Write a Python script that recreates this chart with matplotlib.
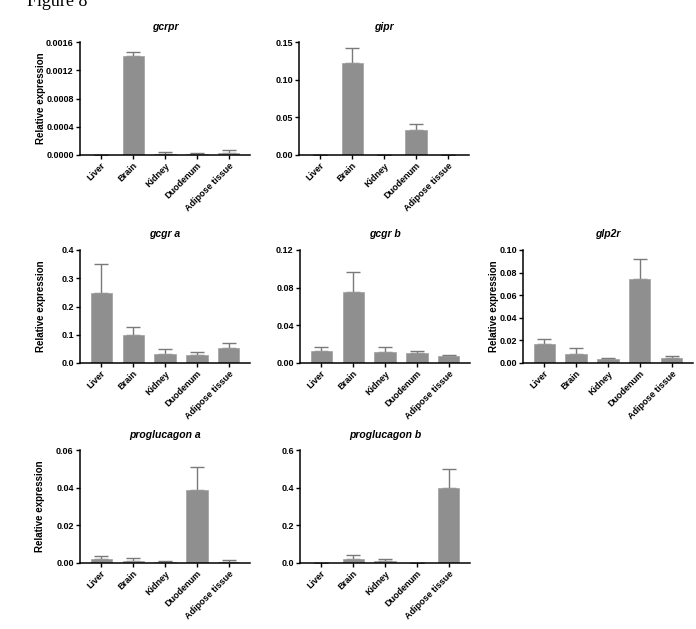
import matplotlib
matplotlib.use("Agg")
from matplotlib import pyplot as plt
import numpy as np

plt.rcParams['font.family'] = ['Liberation Sans', 'DejaVu Sans']

tissues = ["Liver", "Brain", "Kidney", "Duodenum", "Adipose tissue"]

# mean and upper error (SEM) per tissue
gcrpr = [0.0, 0.001406, 0.000014, 0.00001, 0.000033]
gcrpr_err = [0.0, 0.000048, 0.000024, 0.000014, 0.000033]
gipr = [0.0, 0.1226, 0.0, 0.0332, 0.0]
gipr_err = [0.0, 0.019, 0.0, 0.0084, 0.0]
gcgr_a = [0.2494, 0.0988, 0.033, 0.027, 0.052]
gcgr_a_err = [0.1, 0.030, 0.0176, 0.0106, 0.0186]
gcgr_b = [0.01235, 0.0759, 0.0116, 0.0102, 0.0071]
gcgr_b_err = [0.0046, 0.0204, 0.0053, 0.0025, 0.0017]
glp2r = [0.0165, 0.0079, 0.0032, 0.0747, 0.0047]
glp2r_err = [0.0044, 0.0053, 0.0015, 0.0173, 0.0018]
proglucagon_a = [0.0023, 0.0012, 0.0005, 0.039, 0.0007]
proglucagon_a_err = [0.0014, 0.0016, 0.0004, 0.0118, 0.0009]
proglucagon_b = [0.0, 0.023, 0.009, 0.001, 0.399]
proglucagon_b_err = [0.0, 0.018, 0.010, 0.0, 0.102]

W, H = 696, 629
fig = plt.figure(figsize=(W / 100, H / 100), dpi=100)

fig.text(27 / W, 1 - 6 / H, "Figure 8", family="Liberation Serif", fontsize=13,
         va="baseline", ha="left")

bar_col = "#8f8f8f"


def panel(x0, ytop, title, vals, errs, ticks, fmt, label_x=None):
    ybot = ytop + 113
    ax = fig.add_axes([x0 / W, 1 - ybot / H, 170 / W, 113 / H])
    x = np.arange(len(tissues))
    ax.bar(x, vals, width=0.66, color=bar_col, edgecolor="#a0a0a0", linewidth=0.5, zorder=2)
    ax.errorbar(x, vals, yerr=[np.zeros(len(errs)), errs], fmt="none", ecolor="#7a7a7a",
                elinewidth=1, capsize=5, capthick=1, zorder=1)
    ax.set_xlim(-0.66, 4.66)
    ax.set_ylim(0, ticks[-1])
    ax.set_yticks(ticks)
    ax.set_yticklabels([fmt.format(t) for t in ticks], fontsize=6.5, fontweight="bold")
    ax.set_xticks(x)
    ax.set_xticklabels(tissues, rotation=45, ha="right", rotation_mode="anchor",
                       fontsize=6.5, fontweight="bold")
    ax.spines["top"].set_visible(False)
    ax.spines["right"].set_visible(False)
    for s in ("left", "bottom"):
        ax.spines[s].set_linewidth(1.1)
    ax.tick_params(direction="out", length=3, width=1, pad=1.5)
    ax.set_title(title, fontsize=7.5, fontweight="bold", style="italic", pad=9)
    if label_x is not None:
        ax.set_ylabel("Relative expression", fontsize=7, fontweight="bold", va="center")
        ax.yaxis.set_label_coords(label_x, 0.5)
    return ax


panel(80, 42, "gcrpr", gcrpr, gcrpr_err, [0, 0.0004, 0.0008, 0.0012, 0.0016], "{:.4f}", -0.23)
panel(299, 42, "gipr", gipr, gipr_err, [0, 0.05, 0.10, 0.15], "{:.2f}")
panel(80, 250, "gcgr a", gcgr_a, gcgr_a_err, [0, 0.1, 0.2, 0.3, 0.4], "{:.1f}", -0.23)
panel(300, 250, "gcgr b", gcgr_b, gcgr_b_err, [0, 0.04, 0.08, 0.12], "{:.2f}")
panel(523, 250, "glp2r", glp2r, glp2r_err, [0, 0.02, 0.04, 0.06, 0.08, 0.10], "{:.2f}", -0.17)
panel(80, 450, "proglucagon a", proglucagon_a, proglucagon_a_err, [0, 0.02, 0.04, 0.06], "{:.2f}", -0.235)
panel(300, 450, "proglucagon b", proglucagon_b, proglucagon_b_err, [0, 0.2, 0.4, 0.6], "{:.1f}")

fig.savefig("out.png", dpi=100)
